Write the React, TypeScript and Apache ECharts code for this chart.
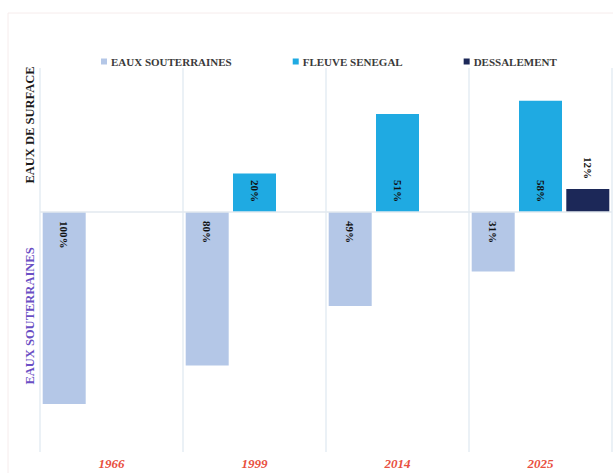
import React, { useEffect, useRef } from "react";
import * as echarts from "echarts";

const categories = ["1966", "1999", "2014", "2025"];
const seriesNames = ["EAUX SOUTERRAINES", "FLEUVE SENEGAL", "DESSALEMENT"];
const souterraines = [-100, -80, -49, -31];
const fleuve = [null, 20, 51, 58];
const dessalement = [null, null, null, 12];
const topTitle = "EAUX DE SURFACE";
const bottomTitle = "EAUX SOUTERRAINES";

const FONT = "'Liberation Serif', 'Times New Roman', serif";

export default function App() {
  const ref = useRef<HTMLDivElement>(null);
  useEffect(() => {
    if (!ref.current) return;
    const chart = echarts.init(ref.current, null, { renderer: "svg" });
    const labelBase = {
      show: true,
      rotate: -90,
      fontFamily: FONT,
      fontWeight: "bold",
      fontSize: 11,
      color: "#111",
      verticalAlign: "middle",
      formatter: (p: any) => Math.abs(p.value) + "%",
    };
    chart.setOption({
      animation: false,
      backgroundColor: "#ffffff",
      grid: { left: 40, right: 1, top: 68, bottom: 21, containLabel: false },
      legend: {
        data: seriesNames,
        left: 96,
        top: 51,
        icon: "rect",
        itemWidth: 6,
        itemHeight: 6,
        itemGap: 61,
        textStyle: { fontFamily: FONT, fontWeight: "bold", fontSize: 11, color: "#3a3a3a", padding: [0, 0, 0, -1] },
      },
      xAxis: {
        type: "category",
        data: categories,
        axisLine: { show: false },
        axisTick: { show: false },
        splitLine: { show: true, lineStyle: { color: "#e5ecf3", width: 1.5 } },
        axisLabel: {
          margin: 5,
          fontFamily: FONT,
          fontStyle: "italic",
          fontWeight: "bold",
          fontSize: 13,
          color: "#e8503f",
        },
      },
      yAxis: {
        type: "value",
        min: -125,
        max: 75,
        show: false,
        splitLine: { show: false },
      },
      series: [
        {
          name: seriesNames[0],
          type: "bar",
          data: souterraines,
          barWidth: 43,
          barGap: "10%",
          itemStyle: { color: "#b4c7e7" },
          label: { ...labelBase, position: "insideTop", align: "left", distance: 9 },
          markLine: {
            silent: true,
            symbol: "none",
            label: { show: false },
            lineStyle: { color: "#e2e8ef", type: "solid", width: 1.5 },
            data: [{ yAxis: 0 }],
          },
        },
        {
          name: seriesNames[1],
          type: "bar",
          data: fleuve,
          barWidth: 43,
          barGap: "10%",
          itemStyle: { color: "#1faae2" },
          label: { ...labelBase, position: "insideBottom", align: "right", distance: 10 },
        },
        {
          name: seriesNames[2],
          type: "bar",
          data: dessalement,
          barWidth: 43,
          barGap: "10%",
          itemStyle: { color: "#1c2858" },
          label: {
            ...labelBase,
            position: "top",
            align: "right",
            distance: 8,
            backgroundColor: "#ffffff",
            padding: [2, 2, 2, 2],
          },
        },
      ],
      graphic: [
        {
          type: "rect",
          shape: { x: 8, y: 13, width: 620, height: 470 },
          style: { fill: "none", stroke: "#f6ecec", lineWidth: 1 },
          silent: true,
          z: -1,
        },
        {
          type: "text",
          x: 30,
          y: 125,
          rotation: Math.PI / 2,
          style: {
            text: topTitle,
            fontFamily: FONT,
            fontWeight: "bold",
            fontSize: 12.5,
            fill: "#1a1a1a",
            align: "center",
            verticalAlign: "middle",
          },
        },
        {
          type: "text",
          x: 30,
          y: 316,
          rotation: Math.PI / 2,
          style: {
            text: bottomTitle,
            fontFamily: FONT,
            fontWeight: "bold",
            fontSize: 12.5,
            fill: "#6a4fc4",
            align: "center",
            verticalAlign: "middle",
          },
        },
      ],
    });
    return () => chart.dispose();
  }, []);
  return (
    <div
      ref={ref}
      style={{ position: "fixed", left: 0, top: 0, width: 613, height: 473 }}
    />
  );
}
